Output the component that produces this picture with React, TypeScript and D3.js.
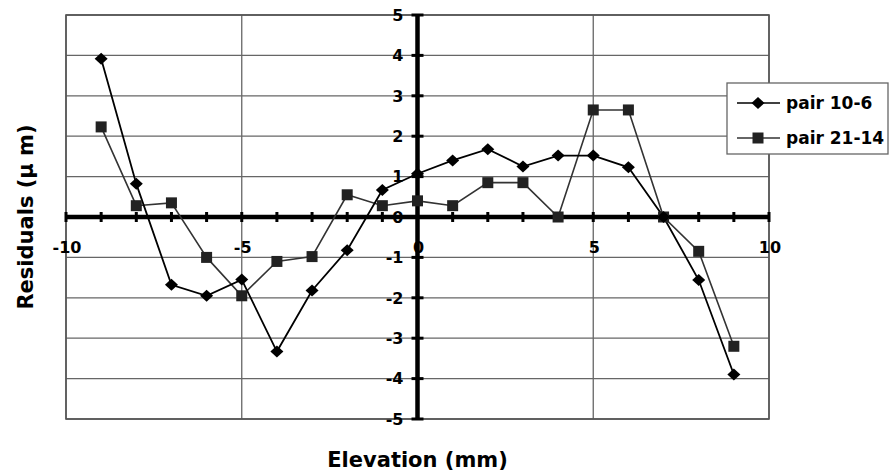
import React, { useEffect, useRef } from 'react';
import * as d3 from 'd3';

// elevation positions (mm)
const elevations = [-9, -8, -7, -6, -5, -4, -3, -2, -1, 0, 1, 2, 3, 4, 5, 6, 7, 8, 9];
// residuals (um)
const pair106 = [3.92, 0.82, -1.68, -1.95, -1.55, -3.33, -1.82, -0.82, 0.67, 1.07, 1.4, 1.68, 1.25, 1.52, 1.52, 1.23, 0.0, -1.56, -3.9];
const pair2114 = [2.23, 0.28, 0.35, -1.0, -1.95, -1.1, -0.98, 0.55, 0.28, 0.4, 0.28, 0.85, 0.85, 0.0, 2.65, 2.65, 0.0, -0.85, -3.2];
const seriesNames = ['pair 10-6', 'pair 21-14'];

const xTicks = [-10, -5, 0, 5, 10];
const xMinorTicks = d3.range(-10, 11);
const yTicks = [-5, -4, -3, -2, -1, 0, 1, 2, 3, 4, 5];

const W = 890;
const H = 475;
const FONT = '"DejaVu Sans", Arial, sans-serif';

const diamondPath = (r: number) => `M0,${-r}L${r + 0.5},0L0,${r}L${-r - 0.5},0Z`;

const App: React.FC = () => {
  const ref = useRef<SVGSVGElement>(null);

  useEffect(() => {
    if (!ref.current) return;
    const svg = d3.select(ref.current);
    svg.selectAll('*').remove();

    const x = d3.scaleLinear().domain([-10, 10]).range([66, 769]);
    const y = d3.scaleLinear().domain([-5, 5]).range([419, 15]);

    // grid lines
    const grid = svg.append('g').attr('stroke', '#666').attr('stroke-width', 1.3);
    grid
      .selectAll('line.h')
      .data(yTicks)
      .join('line')
      .attr('x1', x(-10))
      .attr('x2', x(10))
      .attr('y1', (d) => y(d))
      .attr('y2', (d) => y(d));
    grid
      .selectAll('line.v')
      .data(xTicks)
      .join('line')
      .attr('x1', (d) => x(d))
      .attr('x2', (d) => x(d))
      .attr('y1', y(5))
      .attr('y2', y(-5));
    // plot frame
    svg
      .append('rect')
      .attr('x', x(-10))
      .attr('y', y(5))
      .attr('width', x(10) - x(-10))
      .attr('height', y(-5) - y(5))
      .attr('fill', 'none')
      .attr('stroke', '#555')
      .attr('stroke-width', 1.6);

    // x axis through zero
    svg
      .append('line')
      .attr('x1', x(-10))
      .attr('x2', x(10))
      .attr('y1', y(0))
      .attr('y2', y(0))
      .attr('stroke', '#000')
      .attr('stroke-width', 4.5);
    svg
      .append('g')
      .selectAll('line')
      .data(xMinorTicks)
      .join('line')
      .attr('x1', (d) => x(d))
      .attr('x2', (d) => x(d))
      .attr('y1', y(0) - 5)
      .attr('y2', y(0) + 5)
      .attr('stroke', '#000')
      .attr('stroke-width', 3);

    // y axis through zero
    svg
      .append('line')
      .attr('x1', x(0))
      .attr('x2', x(0))
      .attr('y1', y(5))
      .attr('y2', y(-5))
      .attr('stroke', '#000')
      .attr('stroke-width', 4.5);
    svg
      .append('g')
      .selectAll('line')
      .data(yTicks)
      .join('line')
      .attr('x1', x(0) - 6)
      .attr('x2', x(0) + 6)
      .attr('y1', (d) => y(d))
      .attr('y2', (d) => y(d))
      .attr('stroke', '#000')
      .attr('stroke-width', 3);

    // tick labels
    svg
      .append('g')
      .selectAll('text')
      .data(yTicks)
      .join('text')
      .attr('x', x(0) - 14)
      .attr('y', (d) => y(d))
      .attr('dy', '0.36em')
      .attr('text-anchor', 'end')
      .attr('font-family', FONT)
      .attr('font-weight', 'bold')
      .attr('font-size', 16)
      .text((d) => String(d));
    svg
      .append('g')
      .selectAll('text')
      .data(xTicks)
      .join('text')
      .attr('x', (d) => x(d) + 1)
      .attr('y', y(0) + 36)
      .attr('text-anchor', 'middle')
      .attr('font-family', FONT)
      .attr('font-weight', 'bold')
      .attr('font-size', 16)
      .text((d) => String(d));

    // series
    const line = d3
      .line<number>()
      .x((_, i) => x(elevations[i]))
      .y((d) => y(d));
    svg
      .append('path')
      .datum(pair2114)
      .attr('d', line)
      .attr('fill', 'none')
      .attr('stroke', '#333')
      .attr('stroke-width', 1.6);
    svg
      .append('path')
      .datum(pair106)
      .attr('d', line)
      .attr('fill', 'none')
      .attr('stroke', '#000')
      .attr('stroke-width', 1.8);

    svg
      .append('g')
      .selectAll('rect')
      .data(pair2114)
      .join('rect')
      .attr('x', (_, i) => x(elevations[i]) - 5.5)
      .attr('y', (d) => y(d) - 5.5)
      .attr('width', 11)
      .attr('height', 11)
      .attr('fill', '#222');
    svg
      .append('g')
      .selectAll('path')
      .data(pair106)
      .join('path')
      .attr('d', diamondPath(6))
      .attr('transform', (d, i) => `translate(${x(elevations[i])},${y(d)})`)
      .attr('fill', '#000');

    // axis titles
    svg
      .append('text')
      .attr('x', x(0))
      .attr('y', 467)
      .attr('text-anchor', 'middle')
      .attr('font-family', FONT)
      .attr('font-weight', 'bold')
      .attr('font-size', 21)
      .text('Elevation (mm)');
    svg
      .append('text')
      .attr('transform', `translate(33,${y(0)}) rotate(-90)`)
      .attr('text-anchor', 'middle')
      .attr('font-family', FONT)
      .attr('font-weight', 'bold')
      .attr('font-size', 21)
      .text('Residuals (\u00b5 m)');

    // legend
    const legend = svg.append('g');
    legend
      .append('rect')
      .attr('x', 727)
      .attr('y', 83)
      .attr('width', 161)
      .attr('height', 71)
      .attr('fill', '#fff')
      .attr('stroke', '#666')
      .attr('stroke-width', 1.3);
    seriesNames.forEach((name, i) => {
      const ly = 103 + i * 35;
      legend
        .append('line')
        .attr('x1', 737)
        .attr('x2', 780)
        .attr('y1', ly)
        .attr('y2', ly)
        .attr('stroke', i === 0 ? '#000' : '#333')
        .attr('stroke-width', 1.6);
      if (i === 0) {
        legend.append('path').attr('d', diamondPath(6)).attr('transform', `translate(758,${ly})`).attr('fill', '#000');
      } else {
        legend.append('rect').attr('x', 752.5).attr('y', ly - 5.5).attr('width', 11).attr('height', 11).attr('fill', '#222');
      }
      legend
        .append('text')
        .attr('x', 786)
        .attr('y', ly)
        .attr('dy', '0.36em')
        .attr('font-family', FONT)
        .attr('font-weight', 'bold')
        .attr('font-size', 17)
        .text(name);
    });
  }, []);

  return (
    <div style={{ position: 'absolute', left: 0, top: 0 }}>
      <svg ref={ref} width={W} height={H} style={{ display: 'block', background: '#fff' }} />
    </div>
  );
};

export default App;
